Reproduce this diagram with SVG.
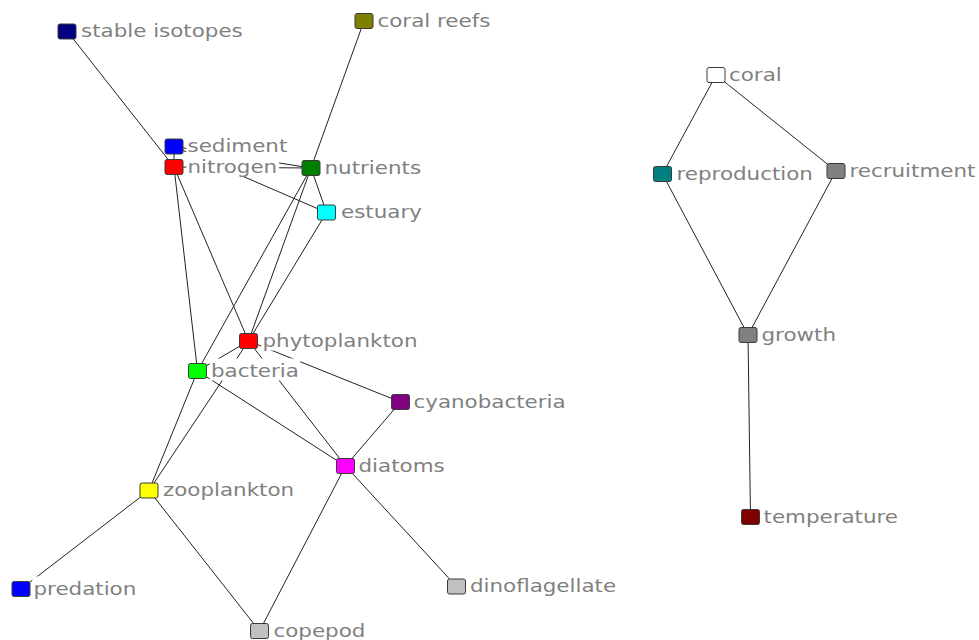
<svg xmlns="http://www.w3.org/2000/svg" width="979" height="640" viewBox="0 0 979 640">
<style>
.bg{fill:#fff}
.e line{stroke:#222;stroke-width:1}
.n{stroke:#3a3a3a;stroke-width:1}
.lb{fill:#fff}
.t{font-family:"DejaVu Sans",Verdana,sans-serif;font-size:18px;fill:#808080}
</style>
<rect class="bg" x="0" y="0" width="979" height="640"/>
<g id="edges" class="e">
<line x1="67" y1="31" x2="174" y2="167"/>
<line x1="174" y1="146.5" x2="174" y2="167"/>
<line x1="364" y1="21" x2="311" y2="168"/>
<line x1="174" y1="167" x2="311" y2="168"/>
<line x1="174" y1="146.5" x2="311" y2="168"/>
<line x1="174" y1="146.5" x2="326.5" y2="212.5"/>
<line x1="311" y1="168" x2="326.5" y2="212.5"/>
<line x1="174" y1="167" x2="197.5" y2="371"/>
<line x1="174" y1="167" x2="248.5" y2="341"/>
<line x1="311" y1="168" x2="197.5" y2="371"/>
<line x1="311" y1="168" x2="248.5" y2="341"/>
<line x1="326.5" y1="212.5" x2="248.5" y2="341"/>
<line x1="248.5" y1="341" x2="197.5" y2="371"/>
<line x1="248.5" y1="341" x2="149" y2="490.5"/>
<line x1="248.5" y1="341" x2="345.5" y2="466"/>
<line x1="248.5" y1="341" x2="400.5" y2="402"/>
<line x1="197.5" y1="371" x2="345.5" y2="466"/>
<line x1="197.5" y1="371" x2="149" y2="490.5"/>
<line x1="400.5" y1="402" x2="345.5" y2="466"/>
<line x1="345.5" y1="466" x2="456.5" y2="586.5"/>
<line x1="345.5" y1="466" x2="259.5" y2="631"/>
<line x1="149" y1="490.5" x2="259.5" y2="631"/>
<line x1="149" y1="490.5" x2="21" y2="589"/>
<line x1="716" y1="75" x2="662.5" y2="174"/>
<line x1="716" y1="75" x2="836" y2="171"/>
<line x1="662.5" y1="174" x2="748" y2="335"/>
<line x1="836" y1="171" x2="748" y2="335"/>
<line x1="748" y1="335" x2="750.5" y2="517"/>
</g>
<g id="n-stable-isotopes"><rect class="n" x="58" y="24" width="18" height="15" rx="2" fill="#000080"/><g transform="translate(81,36.5) scale(1.19,1)"><rect class="lb" x="-1" y="-18" width="138" height="22"/><text class="t">stable isotopes</text></g></g>
<g id="n-coral-reefs"><rect class="n" x="355" y="13.5" width="18" height="15" rx="2" fill="#808000"/><g transform="translate(377.5,26.5) scale(1.19,1)"><rect class="lb" x="-1" y="-18" width="98" height="22"/><text class="t">coral reefs</text></g></g>
<g id="n-sediment"><rect class="n" x="165" y="139" width="18" height="15" rx="2" fill="#0000ff"/><g transform="translate(187.5,152) scale(1.19,1)"><rect class="lb" x="-1" y="-18" width="86" height="22"/><text class="t">sediment</text></g></g>
<g id="n-nitrogen"><rect class="n" x="165" y="159.5" width="18" height="15" rx="2" fill="#ff0000"/><g transform="translate(187.5,172.5) scale(1.19,1)"><rect class="lb" x="-1" y="-18" width="78" height="22"/><text class="t">nitrogen</text></g></g>
<g id="n-nutrients"><rect class="n" x="302" y="160.5" width="18" height="15" rx="2" fill="#008000"/><g transform="translate(324.5,173.5) scale(1.19,1)"><rect class="lb" x="-1" y="-18" width="83" height="22"/><text class="t">nutrients</text></g></g>
<g id="n-estuary"><rect class="n" x="317.5" y="205" width="18" height="15" rx="2" fill="#00ffff"/><g transform="translate(341,218) scale(1.19,1)"><rect class="lb" x="-1" y="-18" width="70" height="22"/><text class="t">estuary</text></g></g>
<g id="n-phytoplankton"><rect class="n" x="239.5" y="333.5" width="18" height="15" rx="2" fill="#ff0000"/><g transform="translate(262.5,346.5) scale(1.19,1)"><rect class="lb" x="-1" y="-18" width="133" height="22"/><text class="t">phytoplankton</text></g></g>
<g id="n-bacteria"><rect class="n" x="188.5" y="363.5" width="18" height="15" rx="2" fill="#00ff00"/><g transform="translate(211,376.5) scale(1.19,1)"><rect class="lb" x="-1" y="-18" width="76" height="22"/><text class="t">bacteria</text></g></g>
<g id="n-cyanobacteria"><rect class="n" x="391.5" y="394.5" width="18" height="15" rx="2" fill="#800080"/><g transform="translate(413.5,407.5) scale(1.19,1)"><rect class="lb" x="-1" y="-18" width="130" height="22"/><text class="t">cyanobacteria</text></g></g>
<g id="n-diatoms"><rect class="n" x="336.5" y="458.5" width="18" height="15" rx="2" fill="#ff00ff"/><g transform="translate(358.5,471.5) scale(1.19,1)"><rect class="lb" x="-1" y="-18" width="75" height="22"/><text class="t">diatoms</text></g></g>
<g id="n-zooplankton"><rect class="n" x="140" y="483" width="18" height="15" rx="2" fill="#ffff00"/><g transform="translate(163,496) scale(1.19,1)"><rect class="lb" x="-1" y="-18" width="113" height="22"/><text class="t">zooplankton</text></g></g>
<g id="n-predation"><rect class="n" x="12" y="581.5" width="18" height="15" rx="2" fill="#0000ff"/><g transform="translate(33.5,594.5) scale(1.19,1)"><rect class="lb" x="-1" y="-18" width="90" height="22"/><text class="t">predation</text></g></g>
<g id="n-dinoflagellate"><rect class="n" x="447.5" y="579" width="18" height="15" rx="2" fill="#c0c0c0"/><g transform="translate(470,592) scale(1.19,1)"><rect class="lb" x="-1" y="-18" width="126" height="22"/><text class="t">dinoflagellate</text></g></g>
<g id="n-copepod"><rect class="n" x="250.5" y="623.5" width="18" height="15" rx="2" fill="#c0c0c0"/><g transform="translate(273.5,636.5) scale(1.19,1)"><rect class="lb" x="-1" y="-18" width="80" height="22"/><text class="t">copepod</text></g></g>
<g id="n-coral"><rect class="n" x="707" y="67.5" width="18" height="15" rx="2" fill="#ffffff"/><g transform="translate(729,80.5) scale(1.19,1)"><rect class="lb" x="-1" y="-18" width="47" height="22"/><text class="t">coral</text></g></g>
<g id="n-reproduction"><rect class="n" x="653.5" y="166.5" width="18" height="15" rx="2" fill="#008080"/><g transform="translate(676.5,179.5) scale(1.19,1)"><rect class="lb" x="-1" y="-18" width="118" height="22"/><text class="t">reproduction</text></g></g>
<g id="n-recruitment"><rect class="n" x="827" y="163.5" width="18" height="15" rx="2" fill="#808080"/><g transform="translate(849.5,176.5) scale(1.19,1)"><rect class="lb" x="-1" y="-18" width="109" height="22"/><text class="t">recruitment</text></g></g>
<g id="n-growth"><rect class="n" x="739" y="327.5" width="18" height="15" rx="2" fill="#808080"/><g transform="translate(761.5,340.5) scale(1.19,1)"><rect class="lb" x="-1" y="-18" width="66" height="22"/><text class="t">growth</text></g></g>
<g id="n-temperature"><rect class="n" x="741.5" y="509.5" width="18" height="15" rx="2" fill="#800000"/><g transform="translate(763.5,522.5) scale(1.19,1)"><rect class="lb" x="-1" y="-18" width="116" height="22"/><text class="t">temperature</text></g></g>
</svg>
